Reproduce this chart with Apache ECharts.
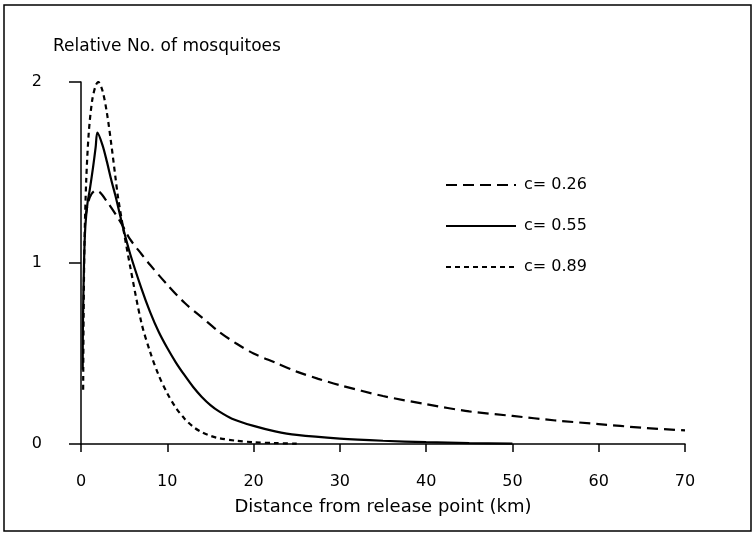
<!DOCTYPE html>
<html>
<head>
<meta charset="utf-8">
<script src="https://cdn.jsdelivr.net/npm/echarts@6/dist/echarts.min.js"></script>
<style>
  html, body { margin: 0; padding: 0; background: #fff; }
  #chart { width: 755px; height: 535px; }
</style>
</head>
<body>
<div id="chart"></div>
<script>
// c = 0.26 (long dashes)
var distA = [0.5, 0.8, 1.2, 1.7, 2.2, 3.0, 4.0, 4.9, 5.7, 7, 8, 10, 12, 14, 16, 18, 20, 22.5, 25, 27.5, 30, 35, 40, 45, 50, 55, 60, 65, 70];
var relA = [1.25, 1.33, 1.38, 1.40, 1.39, 1.34, 1.27, 1.20, 1.13, 1.05, 0.99, 0.88, 0.78, 0.70, 0.62, 0.555, 0.50, 0.45, 0.40, 0.36, 0.325, 0.265, 0.22, 0.18, 0.155, 0.13, 0.11, 0.09, 0.075];

// c = 0.55 (solid)
var distB = [0.2, 0.22, 0.35, 0.5, 0.75, 1.0, 1.4, 1.7, 1.9, 2.5, 3.0, 3.5, 4.0, 4.5, 4.9, 5.7, 7, 8, 9, 10, 11, 12, 13, 14, 15, 16, 17.5, 20, 22.5, 25, 30, 35, 40, 45, 50];
var relB = [0.41, 0.65, 1.0, 1.2, 1.33, 1.40, 1.53, 1.64, 1.72, 1.65, 1.56, 1.46, 1.37, 1.27, 1.19, 1.05, 0.86, 0.73, 0.62, 0.53, 0.45, 0.38, 0.315, 0.26, 0.215, 0.18, 0.14, 0.10, 0.07, 0.05, 0.03, 0.018, 0.01, 0.005, 0.002];

// c = 0.89 (short dashes)
var distC = [0.25, 0.3, 0.4, 0.6, 0.9, 1.3, 1.7, 2.0, 2.5, 3.0, 3.5, 4.0, 4.3, 4.9, 5.7, 7, 8, 9, 10, 11, 12, 13, 14, 15, 16, 18, 20, 22.5, 25];
var relC = [0.30, 0.7, 1.1, 1.45, 1.72, 1.9, 1.98, 2.0, 1.95, 1.83, 1.66, 1.47, 1.36, 1.19, 0.98, 0.67, 0.51, 0.38, 0.28, 0.20, 0.14, 0.095, 0.065, 0.045, 0.032, 0.018, 0.01, 0.005, 0.002];

var xTicks = [0, 10, 20, 30, 40, 50, 60, 70];
var yTicks = [0, 1, 2];

function pairs(xs, ys) {
  return xs.map(function (x, i) { return [x, ys[i]]; });
}

var font = "DejaVu Sans";
var chart = echarts.init(document.getElementById("chart"));

var option = {
  animation: false,
  backgroundColor: "#fff",
  color: ["#000", "#000", "#000"],
  title: {
    text: "Relative No. of mosquitoes",
    left: 48,
    top: 33,
    textStyle: { fontFamily: font, fontSize: 17, fontWeight: "normal", color: "#000" }
  },
  legend: {
    orient: "vertical",
    left: 445,
    top: 177,
    padding: 0,
    itemWidth: 70,
    itemHeight: 14,
    itemGap: 25,
    itemStyle: { opacity: 0 },
    textStyle: { fontFamily: font, fontSize: 16, color: "#000", padding: [0, 0, 0, 3] },
    data: ["c= 0.26", "c= 0.55", "c= 0.89"]
  },
  grid: { left: 81, right: 70, top: 82, bottom: 91 },
  xAxis: {
    type: "value",
    min: xTicks[0],
    max: xTicks[xTicks.length - 1],
    interval: 10,
    offset: 18,
    name: "Distance from release point (km)",
    nameLocation: "middle",
    nameGap: 36,
    nameTextStyle: { fontFamily: font, fontSize: 18, color: "#000" },
    axisLine: { lineStyle: { color: "#000", width: 1.5 } },
    axisTick: { length: 8, lineStyle: { color: "#000", width: 1.5 } },
    axisLabel: { margin: 12, fontFamily: font, fontSize: 16, color: "#000" },
    splitLine: { show: false }
  },
  yAxis: {
    type: "value",
    min: yTicks[0],
    max: yTicks[yTicks.length - 1],
    interval: 1,
    offset: 19,
    axisLine: { show: true, lineStyle: { color: "#000", width: 1.5 } },
    axisTick: { show: true, length: 12, lineStyle: { color: "#000", width: 1.5 } },
    axisLabel: { margin: 20, fontFamily: font, fontSize: 16, color: "#000" },
    splitLine: { show: false }
  },
  series: [
    {
      name: "c= 0.26",
      type: "line",
      symbol: "none",
      smooth: 0.3,
      data: pairs(distA, relA),
      lineStyle: { color: "#000", width: 2.2, type: [11, 6] }
    },
    {
      name: "c= 0.55",
      type: "line",
      symbol: "none",
      smooth: 0.3,
      data: pairs(distB, relB),
      lineStyle: { color: "#000", width: 2.2, type: "solid" }
    },
    {
      name: "c= 0.89",
      type: "line",
      symbol: "none",
      smooth: 0.3,
      data: pairs(distC, relC),
      lineStyle: { color: "#000", width: 2.2, type: [5, 4] }
    }
  ],
  graphic: [
    {
      type: "rect",
      shape: { x: 4, y: 5, width: 747, height: 526 },
      style: { fill: "none", stroke: "#000", lineWidth: 1.5 },
      silent: true
    }
  ]
};

chart.setOption(option);
</script>
</body>
</html>
